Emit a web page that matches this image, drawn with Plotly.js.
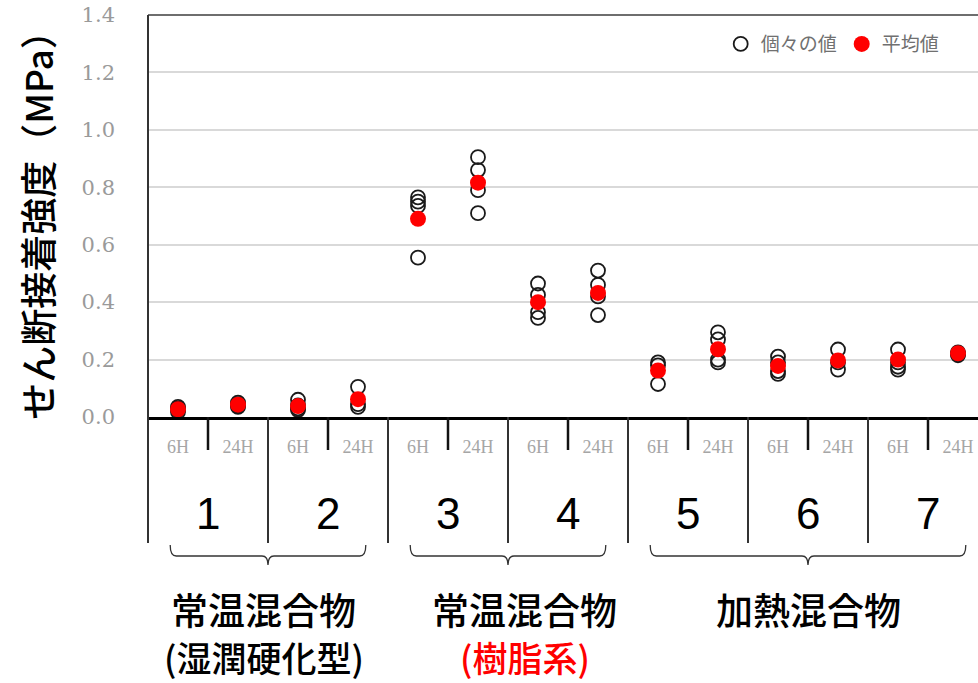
<!DOCTYPE html>
<html>
<head>
<meta charset="utf-8">
<script src="https://cdn.plot.ly/plotly-3.0.1.min.js"></script>
<style>html,body{margin:0;padding:0;background:#fff;}#chart{width:978px;height:683px;}</style>
</head>
<body>
<div id="chart"></div>
<script>
// ---- data ----
const mixNumbers = ['1', '2', '3', '4', '5', '6', '7'];
const curingTimes = ['6H', '24H'];
// individual values (open circles), one list per mix × curing time, in order 1-6H, 1-24H, 2-6H, ...
const individualValues = [
  [0.035, 0.030, 0.025, 0.018],
  [0.050, 0.045, 0.040, 0.035],
  [0.060, 0.040, 0.030, 0.025],
  [0.105, 0.045, 0.035],
  [0.765, 0.750, 0.735, 0.555],
  [0.905, 0.860, 0.790, 0.710],
  [0.465, 0.425, 0.365, 0.345],
  [0.510, 0.460, 0.420, 0.355],
  [0.190, 0.180, 0.115],
  [0.295, 0.270, 0.200, 0.190],
  [0.210, 0.190, 0.160, 0.150],
  [0.235, 0.190, 0.165],
  [0.235, 0.190, 0.175, 0.165],
  [0.225, 0.220, 0.215]
];
// mean values (red dots)
const meanValues = [0.027, 0.043, 0.038, 0.062, 0.690, 0.816, 0.400, 0.432, 0.162, 0.236, 0.178, 0.197, 0.200, 0.222];
// mixture groups: [first mix index, last mix index]
const groupRanges = [[0, 1], [2, 3], [4, 6]];
const groupLine1 = ['常温混合物', '常温混合物', '加熱混合物'];
const groupLine2 = ['(湿潤硬化型)', '(樹脂系)', ''];
const groupLine2Colors = ['#000000', '#ff0000', '#000000'];
const seriesNames = ['個々の値', '平均値'];
const yTitle = 'せん断接着強度（MPa）';

// ---- build traces ----
const catLabels = [];
mixNumbers.forEach(() => curingTimes.forEach(t => catLabels.push(t)));
const catIdx = catLabels.map((_, i) => i);

const indX = [], indY = [];
individualValues.forEach((arr, i) => arr.forEach(v => { indX.push(i); indY.push(v); }));

const traces = [
  {
    type: 'scatter', mode: 'markers', name: seriesNames[0],
    x: indX, y: indY,
    marker: {symbol: 'circle-open', size: 14, color: '#1a1a1a', line: {width: 1.8, color: '#1a1a1a'}},
    hoverinfo: 'skip'
  },
  {
    type: 'scatter', mode: 'markers', name: seriesNames[1],
    x: catIdx, y: meanValues,
    marker: {symbol: 'circle', size: 16, color: '#ff0000'},
    hoverinfo: 'skip'
  }
];

// ---- decorations (layout) ----
const pxPerCat = 60;
const plotW = 830, plotH = 402;
const xmin = -0.5, xmax = -0.5 + plotW / pxPerCat;
const py = px => -px / plotH; // offset below axis (px) -> paper y
const labelShift = [-0.07, 0.28, 0];

const shapes = [];
// top frame line at 1.4
shapes.push({type: 'line', xref: 'paper', yref: 'paper', x0: 0, x1: 1, y0: 1, y1: 1,
  line: {color: '#6e6e6e', width: 2}});
// left vertical line extending below the axis
shapes.push({type: 'line', xref: 'paper', yref: 'paper', x0: 0, x1: 0, y0: 1, y1: py(126),
  line: {color: '#333', width: 2}});
// separators between mixes and short ticks between 6H and 24H
mixNumbers.forEach((m, k) => {
  shapes.push({type: 'line', xref: 'x', yref: 'paper', x0: 2 * k + 0.5, x1: 2 * k + 0.5, y0: 0, y1: py(33),
    line: {color: '#111', width: 2.5}});
  if (k < mixNumbers.length - 1) {
    shapes.push({type: 'line', xref: 'x', yref: 'paper', x0: 2 * k + 1.5, x1: 2 * k + 1.5, y0: 0, y1: py(126),
      line: {color: '#333', width: 2}});
  }
});
// braces
const yTop = py(128), yMid = py(139), yTip = py(148);
const r = 0.1;
groupRanges.forEach(([a, b]) => {
  const x0 = 2 * a - 0.5 + 0.37, x1 = 2 * b + 1.5 - 0.37, xc = (2 * a - 0.5 + 2 * b + 1.5) / 2;
  const path = `M ${x0},${yTop} Q ${x0},${yMid} ${x0 + r},${yMid} L ${xc - r},${yMid} Q ${xc},${yMid} ${xc},${yTip} ` +
    `Q ${xc},${yMid} ${xc + r},${yMid} L ${x1 - r},${yMid} Q ${x1},${yMid} ${x1},${yTop}`;
  shapes.push({type: 'path', xref: 'x', yref: 'paper', path: path, line: {color: '#333', width: 1.3}});
});

const annotations = [];
mixNumbers.forEach((m, k) => {
  annotations.push({xref: 'x', yref: 'paper', x: 2 * k + 0.5, y: py(96), text: m, showarrow: false,
    xanchor: 'center', yanchor: 'middle',
    font: {family: 'Liberation Sans Narrow, Liberation Sans, sans-serif', size: 44, color: '#000'}});
});
groupRanges.forEach(([a, b], g) => {
  const xc = (2 * a - 0.5 + 2 * b + 1.5) / 2 + labelShift[g];
  annotations.push({xref: 'x', yref: 'paper', x: xc, y: py(192), text: groupLine1[g], showarrow: false,
    xanchor: 'center', yanchor: 'middle', borderpad: 0,
    font: {family: 'Noto Sans CJK JP', size: 37, weight: 500, color: '#000'}});
  if (groupLine2[g]) {
    annotations.push({xref: 'x', yref: 'paper', x: xc, y: py(239), text: groupLine2[g], showarrow: false,
      xanchor: 'center', yanchor: 'middle', borderpad: 0,
      font: {family: 'Noto Sans CJK JP', size: 35, weight: 500, color: groupLine2Colors[g]}});
  }
});

const layout = {
  width: 978, height: 683,
  margin: {l: 148, r: 0, t: 15, b: 266},
  paper_bgcolor: '#fff', plot_bgcolor: '#fff',
  showlegend: true,
  legend: {orientation: 'h', x: 0.69, y: 0.975, xanchor: 'left', yanchor: 'top',
    bgcolor: 'rgba(0,0,0,0)', itemwidth: 30, tracegroupgap: 0,
    font: {family: 'Noto Sans CJK JP', size: 19, color: '#707070'}},
  xaxis: {
    range: [xmin, xmax], tickmode: 'array', tickvals: catIdx, ticktext: catLabels,
    showgrid: false, zeroline: false, showline: true, linecolor: '#000', linewidth: 2.5,
    ticks: '', ticklabelstandoff: 12,
    tickfont: {family: 'Liberation Serif', size: 18, color: '#a6a6a6'}
  },
  yaxis: {
    range: [0, 1.4], dtick: 0.2, tick0: 0, tickformat: '.1f',
    showgrid: true, gridcolor: '#d9d9d9', gridwidth: 2, zeroline: false, showline: false,
    ticks: '', ticklabelstandoff: 32,
    tickfont: {family: 'DejaVu Serif', size: 21, color: '#9a9a9a'},
    title: {text: yTitle, standoff: 16, font: {family: 'Noto Sans CJK JP', size: 37, weight: 500, color: '#000'}}
  },
  shapes: shapes,
  annotations: annotations
};

Plotly.newPlot('chart', traces, layout, {staticPlot: true, displayModeBar: false});
</script>
</body>
</html>
